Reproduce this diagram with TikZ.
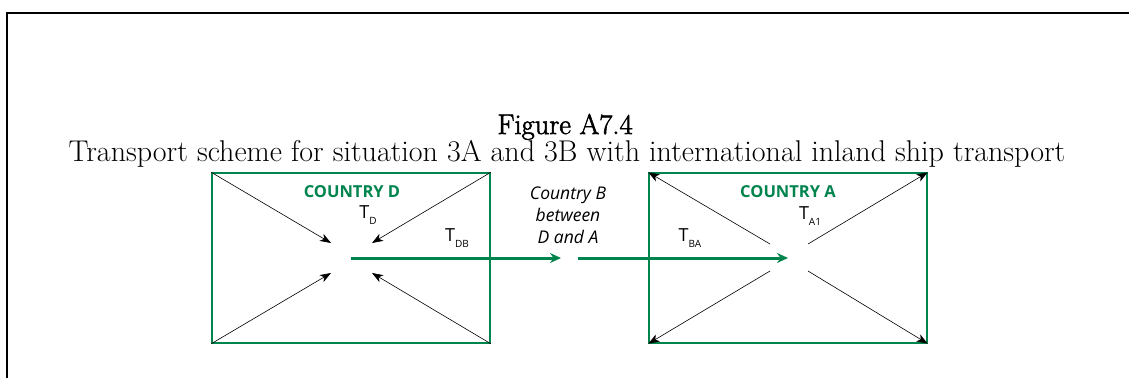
\documentclass[tikz,border=0pt]{standalone}
\usepackage{fontspec}
\setsansfont{Open Sans}
\newfontfamily\headfont[FakeBold=2]{Latin Modern Roman}
\usetikzlibrary{arrows.meta,positioning}
\definecolor{ctgreen}{RGB}{0,132,78}
\newcommand{\tsub}[1]{T\raisebox{-0.6ex}{\fontsize{10}{11}\selectfont #1}}

\begin{document}
\begin{tikzpicture}[x=1pt, y=-1pt, >=Stealth,
  country/.style={draw=ctgreen, line width=1.3pt, minimum width=278pt, minimum height=170pt, inner sep=0pt},
  cname/.style={font=\sffamily\bfseries\fontsize{16.5}{18}\selectfont, text=ctgreen},
  tlabel/.style={font=\sffamily\fontsize{18}{20}\selectfont},
  flow/.style={->, draw=ctgreen, line width=3pt, arrows={-Stealth[length=11pt, width=10pt]}},
  ray/.style={line width=0.6pt, arrows={-Stealth[length=11pt, width=8pt, inset=3pt]}}]
  \useasboundingbox (0,0) rectangle (1129,378);
  \draw[line width=2pt] (6.5,378) -- (6.5,12.5) -- (1129,12.5);
  % title
  \node[font=\headfont\fontsize{28.5}{31}\selectfont, anchor=base] (title) at (565,134) {Figure A7.4};
  \node[font=\fontsize{30}{34}\selectfont, anchor=base] (subtitle) at (567,161) {Transport scheme for situation 3A and 3B with international inland ship transport};
  % countries
  \node[country] (cd) at (351,258) {};
  \node[country] (ca) at (788,258) {};
  \node[cname] (cdname) at (352,192) {COUNTRY D};
  \node[cname] (caname) at (788,192) {COUNTRY A};
  \node[tlabel] (td) at (368,215) {\tsub{D}};
  \node[tlabel] (tdb) at (457,238) {\tsub{DB}};
  \node[tlabel] (tba) at (690,238) {\tsub{BA}};
  \node[tlabel] (ta) at (810,216) {\tsub{A1}};
  \node[font=\sffamily\itshape\fontsize{17.5}{22}\selectfont, align=center] (cb) at (568,215) {Country B\\between\\D and A};
  % points round the centres
  \coordinate (dnw) at (331,243); \coordinate (dne) at (372,243);
  \coordinate (dsw) at (331,273); \coordinate (dse) at (372,273);
  \coordinate (anw) at (770,244); \coordinate (ane) at (808,244);
  \coordinate (asw) at (770,271); \coordinate (ase) at (808,271);
  \coordinate (dout) at (351,258); \coordinate (bmid) at (561,258);
  \coordinate (bout) at (578,258); \coordinate (ain) at (788,258);
  \draw[ray] (cd.north west) -- (dnw);
  \draw[ray] (cd.north east) -- (dne);
  \draw[ray] (cd.south west) -- (dsw);
  \draw[ray] (cd.south east) -- (dse);
  \draw[ray] (anw) -- (ca.north west);
  \draw[ray] (ane) -- (ca.north east);
  \draw[ray] (asw) -- (ca.south west);
  \draw[ray] (ase) -- (ca.south east);
  \draw[flow] (dout) -- (bmid);
  \draw[flow] (bout) -- (ain);
\end{tikzpicture}
\end{document}
